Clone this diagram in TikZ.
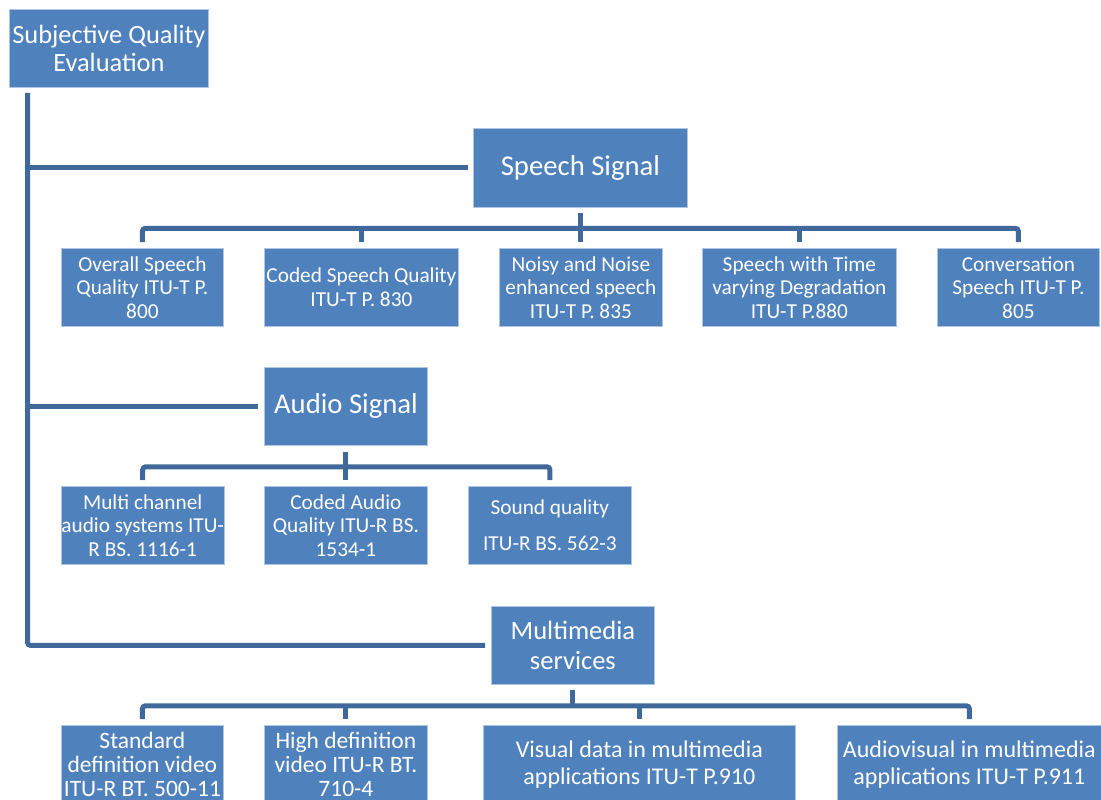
\documentclass[tikz,border=0pt]{standalone}
\usepackage{fontspec}
\setmainfont{Carlito}
\definecolor{boxblue}{RGB}{79,129,189}
\definecolor{boxedge}{RGB}{175,198,226}
\definecolor{connblue}{RGB}{65,104,154}
\begin{document}
\begin{tikzpicture}[x=1pt,y=-1pt,
  box/.style={fill=boxblue, draw=boxedge, line width=0.8pt, text=white, align=center,
    inner sep=0pt, anchor=north west, minimum height=78pt,
    font=\fontsize{21.3}{23.5}\selectfont},
  bigbox/.style={box, font=\fontsize{28.7}{31}\selectfont},
  lowbox/.style={box, font=\fontsize{23.5}{23.8}\selectfont},
  widebox/.style={box, font=\fontsize{24}{26.5}\selectfont},
  conn/.style={draw=connblue, line width=5pt, rounded corners=3pt}]
\useasboundingbox (0,0) rectangle (1101,800);
\clip (0,0) rectangle (1101,800);
% nodes
\node[box, minimum width=199pt, font=\fontsize{26.4}{28.5}\selectfont] (root) at (9,9) {Subjective Quality\\Evaluation};
\node[bigbox, minimum width=214pt, minimum height=79pt] (sp) at (473,128) {Speech Signal};
\node[box, minimum width=162pt] (s1) at (61,248) {Overall Speech\\Quality ITU-T P.\\800};
\node[box, minimum width=194pt] (s2) at (264,248) {Coded Speech Quality\\ITU-T P. 830};
\node[box, minimum width=163pt] (s3) at (499,248) {Noisy and Noise\\enhanced speech\\ITU-T P. 835};
\node[box, minimum width=194pt] (s4) at (702,248) {Speech with Time\\varying Degradation\\ITU-T P.880};
\node[box, minimum width=162pt] (s5) at (937,248) {Conversation\\Speech ITU-T P.\\805};
\node[bigbox, minimum width=163pt] (au) at (264,367) {Audio Signal};
\node[box, minimum width=162pt] (a1) at (61,486) {Multi channel\\audio systems ITU-\\R BS. 1116-1};
\node[box, minimum width=163pt] (a2) at (264,486) {Coded Audio\\Quality ITU-R BS.\\1534-1};
\node[box, minimum width=163pt] (a3) at (468,486) {Sound quality\\[12pt]ITU-R BS. 562-3};
\node[box, minimum width=163pt, font=\fontsize{26.5}{29.5}\selectfont] (mm) at (491,606) {Multimedia\\services};
\node[lowbox, minimum width=162pt] (m1) at (61,725) {Standard\\definition video\\ITU-R BT. 500-11};
\node[lowbox, minimum width=163pt] (m2) at (264,725) {High definition\\video ITU-R BT.\\710-4};
\node[widebox, minimum width=312pt] (m3) at (483,725) {Visual data in multimedia\\applications ITU-T P.910};
\node[widebox, minimum width=264pt] (m4) at (837,725) {Audiovisual in multimedia\\applications ITU-T P.911};
% trunk
\coordinate (t) at ([xshift=18.5pt,yshift=-5pt]root.south west);
\draw[conn] (t) |- ([xshift=-6pt]mm.west);
\draw[conn] (t |- sp.west) -- ([xshift=-5pt]sp.west);
\draw[conn] (t |- au.west) -- ([xshift=-6pt]au.west);
% speech bus
\coordinate (sb) at ([yshift=-20.5pt]sp.south);
\draw[conn] ([yshift=6pt]s1.north) |- (sb) -| ([yshift=6pt]s5.north);
\draw[conn] (s2.north |- sb) -- ([yshift=6pt]s2.north);
\draw[conn] (s4.north |- sb) -- ([yshift=6pt]s4.north);
\draw[conn] ([yshift=-5pt]sp.south) -- ([yshift=6pt]sp.south |- s3.north);
% audio bus
\coordinate (ab) at ([yshift=-21pt]au.south);
\draw[conn] ([yshift=6pt]a1.north) |- (ab) -| ([yshift=6pt]a3.north);
\draw[conn] ([yshift=-6pt]au.south) -- ([yshift=6pt]a2.north);
% multimedia bus
\coordinate (mb) at ([yshift=-21pt]mm.south);
\draw[conn] ([yshift=6pt]m1.north) |- (mb) -| ([yshift=6pt]m4.north);
\draw[conn] (m2.north |- mb) -- ([yshift=6pt]m2.north);
\draw[conn] (m3.north |- mb) -- ([yshift=6pt]m3.north);
\draw[conn] ([yshift=-5pt]mm.south) -- ([yshift=-2pt]mb);
\end{tikzpicture}
\end{document}
